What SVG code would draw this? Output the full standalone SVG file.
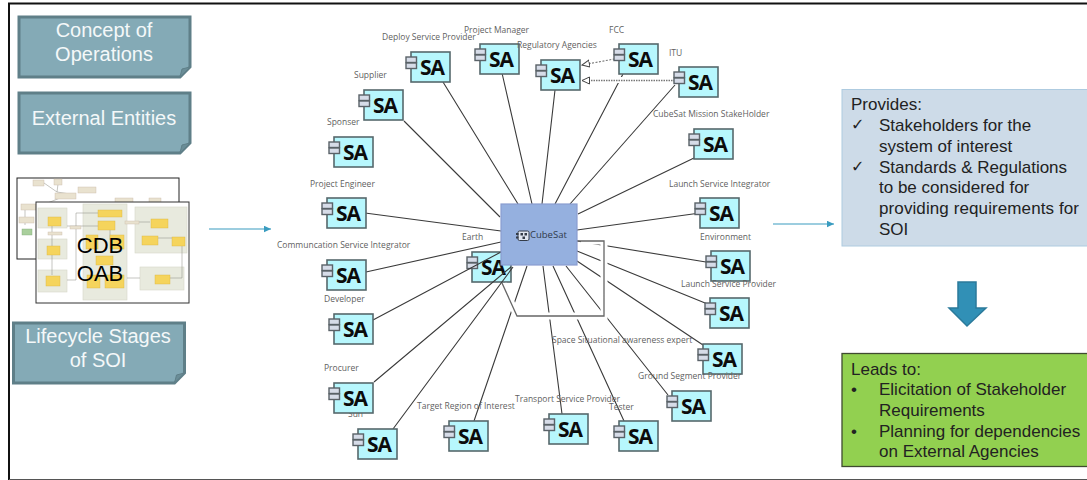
<svg xmlns="http://www.w3.org/2000/svg" width="1087" height="480" viewBox="0 0 1087 480">
<style>
.note{fill:#84aab6;stroke:#5f7f88;stroke-width:3}
.fold{fill:#6a8d97;stroke:#5f7f88;stroke-width:1}
.nt{font-family:"Liberation Sans",Arial,sans-serif;font-size:20px;fill:#f4f8f9;text-anchor:middle}
.lb{font-family:"Open Sans","Noto Sans",sans-serif;font-size:8.5px;fill:#5f5f5f}
.sa{font-family:"Open Sans","Noto Sans",sans-serif;font-weight:700;font-size:21px;letter-spacing:-1px;fill:#0c0c0c}
.body{fill:#b7f7fd;stroke:#56686c;stroke-width:1.6}
.port{fill:#d6dce8;stroke:#5a6268;stroke-width:1.4}
.c{fill:none;stroke:#3a3a3a;stroke-width:1.1}
.halo{fill:none;stroke:#fff;stroke-width:7}
.t{font-family:"Liberation Sans",Arial,sans-serif;font-size:17px;fill:#222}
.ck{font-family:"DejaVu Sans",sans-serif;font-size:16px;fill:#222}
.arr{stroke:#3a9cc0;stroke-width:1.2;fill:none}
.pn{fill:#e8eade;stroke:#d5d8c8;stroke-width:.6}
.yb{fill:#f5d45c;stroke:#d9b640;stroke-width:.4}
.gl{stroke:#8a8a80;stroke-width:.5;fill:none}
.tg{fill:#e9e2cf;stroke:#c9b9a8;stroke-width:.4}
</style>
<defs>
<g id="saShape">
<rect class="body" x="0" y="0" width="39" height="30"/>
<rect class="port" x="-5" y="5" width="10.500" height="5.500"/>
<rect class="port" x="-5" y="11" width="10.500" height="5.500"/>
</g>
<marker id="ah" markerWidth="8" markerHeight="8" refX="7.500" refY="3.500" orient="auto" markerUnits="userSpaceOnUse"><path d="M0,0L7.500,3.500L0,7Z" fill="#3a9cc0"/></marker>
<marker id="tri" markerWidth="10" markerHeight="10" refX="8" refY="4" orient="auto" markerUnits="userSpaceOnUse"><path d="M0.500,0.500L8,4L0.500,7.500Z" fill="#fff" stroke="#444" stroke-width="1"/></marker>
</defs>
<rect width="1087" height="480" fill="#fff"/>
<path d="M9,480V3.500H1087" fill="none" stroke="#111" stroke-width="2"/>
<path d="M9,479.500H1087" fill="none" stroke="#555" stroke-width="1"/>

<g id="concept-of-operations">
<path class="note" d="M19,17H190V67L180,77H19Z"/><path class="fold" d="M180,77L182,69L190,67Z"/>
<text class="nt" x="104" y="37">Concept of</text><text class="nt" x="104" y="61">Operations</text>
</g>
<g id="external-entities">
<path class="note" d="M19,93H190V143L180,153H19Z"/><path class="fold" d="M180,153L182,145L190,143Z"/>
<text class="nt" x="104" y="125">External Entities</text>
</g>
<g id="lifecycle-stages">
<path class="note" d="M13.500,323H184.500V373L174.500,383H13.500Z"/><path class="fold" d="M174.500,383L176.500,375L184.500,373Z"/>
<text class="nt" x="98" y="343">Lifecycle Stages</text><text class="nt" x="98" y="367">of SOI</text>
</g>

<g id="thumbnail-back">
<rect x="17" y="178" width="162" height="81" fill="#fff" stroke="#222" stroke-width="1"/>
<path class="gl" d="M58,184L57,192M44,183L57,192M57,192L70,194M70,194L40,206M25,207L25,225"/>
<rect class="tg" x="33" y="180" width="11" height="6"/><rect class="tg" x="54" y="179" width="8" height="6"/>
<rect class="tg" x="55" y="193" width="21" height="6"/><rect class="tg" x="78" y="187" width="18" height="6"/>
<rect class="tg" x="21" y="204" width="15" height="6"/><rect class="tg" x="115" y="198" width="18" height="5"/>
<rect class="tg" x="149" y="198" width="12" height="5"/><rect class="tg" x="19" y="217" width="15" height="6"/>
<rect x="22" y="229" width="10" height="6" fill="#a9cf9c" stroke="#7fa87a" stroke-width=".4"/>
</g>
<g id="thumbnail-front">
<rect x="36" y="202" width="153" height="101" fill="#fff" stroke="#333" stroke-width="1"/>
<rect class="pn" x="38" y="208" width="29" height="20"/><rect class="pn" x="38" y="239" width="29" height="20"/><rect class="pn" x="38" y="270" width="29" height="22"/>
<rect class="pn" x="83" y="204" width="44" height="96"/><rect class="pn" x="135" y="207" width="52" height="46"/><rect class="pn" x="140" y="267" width="44" height="23"/>
<path class="gl" d="M52,218V275M67,280H76V213H98M110,225V240M67,226H98M127,222H150M127,278H140M182,240V278H170M158,238H172"/>
<rect class="yb" x="98" y="210" width="24" height="7"/><rect class="yb" x="98" y="221" width="17" height="9"/><rect class="yb" x="48" y="217" width="13" height="9"/><rect class="yb" x="47" y="246" width="13" height="9"/><rect class="yb" x="46" y="276" width="14" height="10"/><rect class="yb" x="151" y="219" width="17" height="9"/><rect class="yb" x="142" y="236" width="16" height="9"/><rect class="yb" x="172" y="237" width="13" height="9"/><rect class="yb" x="155" y="275" width="15" height="9"/><rect class="yb" x="86" y="235" width="12" height="14"/><rect class="yb" x="110" y="235" width="14" height="14"/><rect class="yb" x="96" y="256" width="17" height="9"/><rect class="yb" x="87" y="275" width="13" height="13"/><rect class="yb" x="105" y="275" width="19" height="13"/>
<rect class="tg" x="70" y="226" width="11" height="3"/><rect class="tg" x="48" y="232" width="14" height="3"/><rect class="tg" x="125" y="221" width="14" height="3"/>
<text x="100" y="253" font-family="Liberation Sans,Arial,sans-serif" font-size="22" fill="#000" text-anchor="middle">CDB</text>
<text x="100" y="281" font-family="Liberation Sans,Arial,sans-serif" font-size="22" fill="#000" text-anchor="middle">OAB</text>
</g>

<g id="arrows">
<path class="arr" d="M209,229H271" marker-end="url(#ah)"/>
<path class="arr" d="M773,224H834" marker-end="url(#ah)"/>
<path id="down-arrow" d="M958,282H976V308H986L967,326L949,308H958Z" fill="#3190b6" stroke="#2b7a9b" stroke-width="1.5"/>
</g>

<g id="node-earth"><use href="#saShape" x="472" y="252"/><text class="sa" x="481" y="275">SA</text><text class="lb" x="462" y="240">Earth</text></g>

<g id="connectors">
<path class="c" d="M404,121L500,217M443,82L518,204M502,73L532,204M555,90L542,204M623,74L555,204M675,85L570,204M694,158L578,214"/>
<path class="c" d="M365,213L501,231M366,272L501,242M373,320L501,252M374,382L511,267M393,429L513,267M474,421L527,266"/>
<path class="c" d="M543,266L562,414M553,266L624,421M566,266L668,395M577,261L703,345M577,251L710,305M577,241L706,262M577,230L700,213"/>
<path class="halo" d="M581,241H604V316H517L503,284"/>
<path d="M577,241H604V316H517L502,283" fill="none" stroke="#666" stroke-width="1.3"/>
<path d="M598,80H675" fill="none" stroke="#fff" stroke-width="6"/>
<path d="M625,57L582,65" fill="none" stroke="#777" stroke-width="1.1" stroke-dasharray="2 1.500" marker-end="url(#tri)"/>
<path d="M675,80.500H582" fill="none" stroke="#777" stroke-width="1.300" stroke-dasharray="1.500 1" marker-end="url(#tri)"/>
</g>

<g id="node-cubesat">
<rect x="501" y="204" width="76" height="61" fill="#95b0df" stroke="#8a9dd0" stroke-width="1.2"/>
<rect x="518" y="231" width="11" height="9.500" rx="1.500" fill="#dfe5f0" stroke="#333b48" stroke-width="1"/>
<rect x="516" y="233" width="2.500" height="2" fill="#333b48"/><rect x="516" y="236.500" width="2.500" height="2" fill="#333b48"/>
<rect x="520.500" y="233" width="2.500" height="2.500" fill="#333b48"/><rect x="524.500" y="233" width="2.500" height="2.500" fill="#333b48"/><rect x="522.500" y="236.500" width="2.500" height="2.500" fill="#333b48"/>
<text x="530" y="238" font-family="Open Sans,Noto Sans,sans-serif" font-size="9.500" fill="#2f3a4a">CubeSat</text>
</g>

<g id="node-deploy"><use href="#saShape" x="411" y="52"/><text class="sa" x="420" y="75">SA</text><text class="lb" x="382" y="40">Deploy Service Provider</text></g>
<g id="node-project-manager"><use href="#saShape" x="480" y="44"/><text class="sa" x="489" y="67">SA</text><text class="lb" x="464" y="33">Project Manager</text></g>
<g id="node-regulatory"><use href="#saShape" x="541" y="60"/><text class="sa" x="550" y="83">SA</text><text class="lb" x="517" y="48">Regulatory Agencies</text></g>
<g id="node-fcc"><use href="#saShape" x="619" y="44"/><text class="sa" x="628" y="67">SA</text><text class="lb" x="609" y="33">FCC</text></g>
<g id="node-itu"><use href="#saShape" x="679" y="67"/><text class="sa" x="688" y="90">SA</text><text class="lb" x="669" y="56">ITU</text></g>
<g id="node-mission"><use href="#saShape" x="694" y="129"/><text class="sa" x="703" y="152">SA</text><text class="lb" x="653" y="117">CubeSat Mission StakeHolder</text></g>
<g id="node-launch-integrator"><use href="#saShape" x="700" y="198"/><text class="sa" x="709" y="221">SA</text><text class="lb" x="669" y="187">Launch Service Integrator</text></g>
<g id="node-environment"><use href="#saShape" x="711" y="251"/><text class="sa" x="720" y="274">SA</text><text class="lb" x="700" y="240">Environment</text></g>
<g id="node-launch-provider"><use href="#saShape" x="710" y="298"/><text class="sa" x="719" y="321">SA</text><text class="lb" x="681" y="287">Launch Service Provider</text></g>
<g id="node-space"><use href="#saShape" x="703" y="344"/><text class="sa" x="712" y="367">SA</text><text class="lb" x="552" y="343">Space Situational awareness expert</text></g>
<g id="node-ground"><use href="#saShape" x="672" y="391"/><text class="sa" x="681" y="414">SA</text><text class="lb" x="638" y="379">Ground Segment Provider</text></g>
<g id="node-tester"><use href="#saShape" x="619" y="421"/><text class="sa" x="628" y="444">SA</text><text class="lb" x="609" y="410">Tester</text></g>
<g id="node-transport"><use href="#saShape" x="549" y="414"/><text class="sa" x="558" y="437">SA</text><text class="lb" x="515" y="402">Transport Service Provider</text></g>
<g id="node-target"><use href="#saShape" x="449" y="421"/><text class="sa" x="458" y="444">SA</text><text class="lb" x="417" y="409">Target Region of Interest</text></g>
<g id="node-sun"><use href="#saShape" x="358" y="429"/><text class="sa" x="367" y="452">SA</text><text class="lb" x="348" y="417">Sun</text></g>
<g id="node-procurer"><use href="#saShape" x="334" y="383"/><text class="sa" x="343" y="406">SA</text><text class="lb" x="324" y="371">Procurer</text></g>
<g id="node-developer"><use href="#saShape" x="334" y="314"/><text class="sa" x="343" y="337">SA</text><text class="lb" x="324" y="302">Developer</text></g>
<g id="node-communication"><use href="#saShape" x="327" y="260"/><text class="sa" x="336" y="283">SA</text><text class="lb" x="277" y="248">Communcation Service Integrator</text></g>
<g id="node-project-engineer"><use href="#saShape" x="327" y="198"/><text class="sa" x="336" y="221">SA</text><text class="lb" x="310" y="187">Project Engineer</text></g>
<g id="node-sponser"><use href="#saShape" x="334" y="137"/><text class="sa" x="343" y="160">SA</text><text class="lb" x="327" y="125">Sponser</text></g>
<g id="node-supplier"><use href="#saShape" x="364" y="90"/><text class="sa" x="373" y="113">SA</text><text class="lb" x="354" y="78">Supplier</text></g>

<g id="provides">
<rect x="842" y="89.500" width="246" height="156.500" fill="#cddbe8" stroke="#aecbe0" stroke-width="1"/>
<text class="t" x="851" y="110">Provides:</text>
<text class="ck" x="851" y="130">✓</text>
<text class="t" x="879" y="131">Stakeholders for the</text>
<text class="t" x="879" y="152">system of interest</text>
<text class="ck" x="851" y="172">✓</text>
<text class="t" x="879" y="173">Standards &amp; Regulations</text>
<text class="t" x="879" y="193">to be considered for</text>
<text class="t" x="879" y="214" textLength="200">providing requirements for</text>
<text class="t" x="879" y="235">SOI</text>
</g>
<g id="leads-to">
<rect x="842" y="353.500" width="246" height="113" fill="#92d050" stroke="#3f4a30" stroke-width="1.300"/>
<text class="t" x="851" y="375">Leads to:</text>
<text class="t" x="851" y="395">•</text>
<text class="t" x="879" y="395">Elicitation of Stakeholder</text>
<text class="t" x="879" y="416">Requirements</text>
<text class="t" x="851" y="437">•</text>
<text class="t" x="879" y="437">Planning for dependencies</text>
<text class="t" x="879" y="457">on External Agencies</text>
</g>
</svg>
